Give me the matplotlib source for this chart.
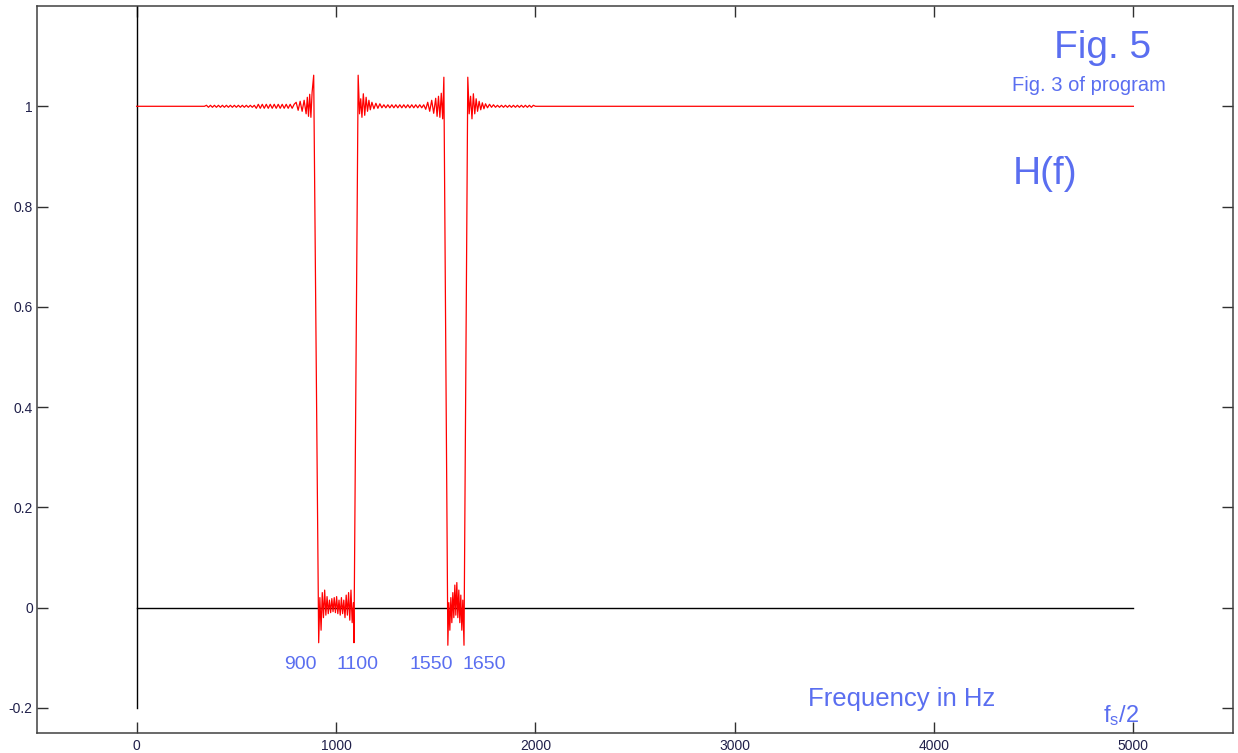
import matplotlib
matplotlib.use("Agg")
import matplotlib.pyplot as plt
import numpy as np

plt.rcParams['font.family'] = ['Liberation Sans', 'DejaVu Sans']
plt.rcParams['mathtext.fontset'] = 'custom'
plt.rcParams['mathtext.rm'] = 'Liberation Sans'

BLUE = '#5a6ef0'

# --- H(f), segment by segment ---
# passband below 900 Hz
pass1_f = [0, 340, 350, 360, 370, 380, 390, 400, 410, 420, 430, 440, 450, 460,
           470, 480, 490, 500, 510, 520, 530, 540, 550, 560, 570, 580, 590, 600,
           610, 620, 630, 640, 650, 660, 670, 680, 690, 700, 710, 720, 730, 740,
           750, 760, 770, 780, 790, 800, 810, 820, 830, 840, 850, 856, 862, 868,
           874, 880, 888]
pass1_h = [1.0, 1.0, 1.002, 0.998, 1.002, 0.998, 1.002, 0.998, 1.002, 0.998,
           1.002, 0.998, 1.002, 0.998, 1.002, 0.998, 1.002, 0.998, 1.002, 0.998,
           1.002, 0.998, 1.002, 0.998, 1.002, 0.998, 1.002, 0.996, 1.004, 0.996,
           1.004, 0.996, 1.004, 0.996, 1.004, 0.996, 1.004, 0.996, 1.004, 0.996,
           1.004, 0.996, 1.004, 0.996, 1.004, 0.996, 1.004, 1.008, 0.992, 1.01,
           0.99, 1.012, 0.985, 1.018, 0.98, 1.024, 0.978, 1.028, 1.062]

# first stopband 900-1100 Hz
stop1_f = [913, 919, 925, 931, 937, 943, 949, 955, 961, 967, 973, 979, 985, 991,
           997, 1003, 1009, 1015, 1021, 1027, 1033, 1039, 1045, 1051, 1057, 1063,
           1069, 1075, 1081, 1087, 1090]
stop1_h = [-0.07, 0.02, -0.045, 0.03, -0.02, 0.035, -0.015, 0.022, -0.012, 0.015,
           -0.01, 0.018, -0.008, 0.02, -0.01, 0.022, -0.012, 0.015, -0.015, 0.02,
           -0.012, 0.015, -0.02, 0.025, -0.015, 0.03, -0.025, 0.035, -0.03, 0.01,
           -0.07]

# passband between the notches
pass2_f = [1111, 1118, 1124, 1130, 1137, 1144, 1151, 1158, 1165, 1172, 1180, 1190,
           1200, 1210, 1220, 1230, 1240, 1250, 1260, 1270, 1280, 1290, 1300, 1310,
           1320, 1330, 1340, 1350, 1360, 1370, 1380, 1390, 1400, 1410, 1420, 1430,
           1440, 1450, 1460, 1470, 1480, 1490, 1500, 1507, 1514, 1521, 1528, 1535,
           1541]
pass2_h = [1.062, 0.985, 1.015, 0.978, 1.025, 0.982, 1.018, 0.99, 1.012, 0.993,
           1.008, 0.995, 1.006, 0.996, 1.005, 0.997, 1.003, 0.997, 1.003, 0.997,
           1.003, 0.997, 1.003, 0.997, 1.003, 0.997, 1.003, 0.997, 1.003, 0.997,
           1.003, 0.997, 1.003, 0.997, 1.003, 0.997, 1.003, 0.994, 1.008, 0.99,
           1.012, 0.986, 1.016, 0.98, 1.02, 0.978, 1.026, 0.975, 1.058]

# second stopband 1550-1650 Hz
stop2_f = [1561, 1566, 1571, 1576, 1581, 1586, 1591, 1596, 1601, 1606, 1611, 1616,
           1621, 1626, 1631, 1636, 1642]
stop2_h = [-0.075, 0.01, -0.045, 0.02, -0.03, 0.03, -0.02, 0.045, -0.015, 0.05,
           -0.02, 0.035, -0.03, 0.025, -0.045, 0.015, -0.075]

# passband above 1650 Hz up to fs/2
pass3_f = [1661, 1668, 1675, 1682, 1689, 1696, 1703, 1710, 1718, 1726, 1734, 1742,
           1750, 1760, 1770, 1780, 1790, 1800, 1810, 1820, 1830, 1840, 1850, 1860,
           1870, 1880, 1890, 1900, 1910, 1920, 1930, 1940, 1950, 1960, 1970, 1980,
           1990, 2000, 5000]
pass3_h = [1.058, 0.985, 1.02, 0.975, 1.025, 0.985, 1.015, 0.99, 1.01, 0.993,
           1.007, 0.995, 1.005, 0.997, 1.004, 0.998, 1.003, 0.998, 1.002, 0.998,
           1.002, 0.998, 1.002, 0.998, 1.002, 0.998, 1.002, 0.998, 1.002, 0.998,
           1.002, 0.998, 1.002, 0.998, 1.002, 0.998, 1.002, 1.0, 1.0]

edge_labels = ['900', '1100', '1550', '1650']
edge_label_x = [820, 1108, 1477, 1743]

x_ticks = [0, 1000, 2000, 3000, 4000, 5000]
y_ticks = [-0.2, 0, 0.2, 0.4, 0.6, 0.8, 1]
y_tick_labels = ['-0.2', '0', '0.2', '0.4', '0.6', '0.8', '1']

freq = np.array(pass1_f + stop1_f + pass2_f + stop2_f + pass3_f, dtype=float)
resp = np.array(pass1_h + stop1_h + pass2_h + stop2_h + pass3_h, dtype=float)

fig = plt.figure(figsize=(12.38, 7.53), dpi=100)
ax = fig.add_axes([0.0299, 0.0266, 0.9661, 0.9654])

# axis lines through the origin
ax.plot([0, 0], [-0.2, 1.2], color='black', lw=1.0)
ax.plot([0, 5000], [0, 0], color='black', lw=1.0)

ax.plot(freq, resp, color='red', lw=0.9)

ax.set_xlim(-500, 5500)
ax.set_ylim(-0.25, 1.2)
ax.set_xticks(x_ticks)
ax.set_xticklabels([str(t) for t in x_ticks])
ax.set_yticks(y_ticks)
ax.set_yticklabels(y_tick_labels)
ax.tick_params(direction='in', length=8, width=1.0, color='#303030',
               labelsize=10, labelcolor='#20204a', top=True, right=True)
ax.tick_params(axis='y', pad=3)
ax.tick_params(axis='x', pad=4)
for sp in ax.spines.values():
    sp.set_color('#404040')
    sp.set_linewidth(1.1)

# annotations
ax.text(4604, 1.0956, 'Fig. 5', color=BLUE, fontsize=28, ha='left', va='baseline')
ax.text(4393, 1.0299, 'Fig. 3 of program', color=BLUE, fontsize=14.5,
        ha='left', va='baseline')
ax.text(4393, 0.8446, 'H(f)', color=BLUE, fontsize=28, ha='left', va='baseline')
for lab, xl in zip(edge_labels, edge_label_x):
    ax.text(xl, -0.1215, lab, color=BLUE, fontsize=14, ha='center', va='baseline')
ax.text(3370, -0.197, 'Frequency in Hz', color=BLUE, fontsize=18.5,
        ha='left', va='baseline')
ax.text(4849, -0.229, r'$\mathregular{f_s}$/2', color=BLUE, fontsize=17,
        ha='left', va='baseline')

fig.savefig('out.png', dpi=100)
